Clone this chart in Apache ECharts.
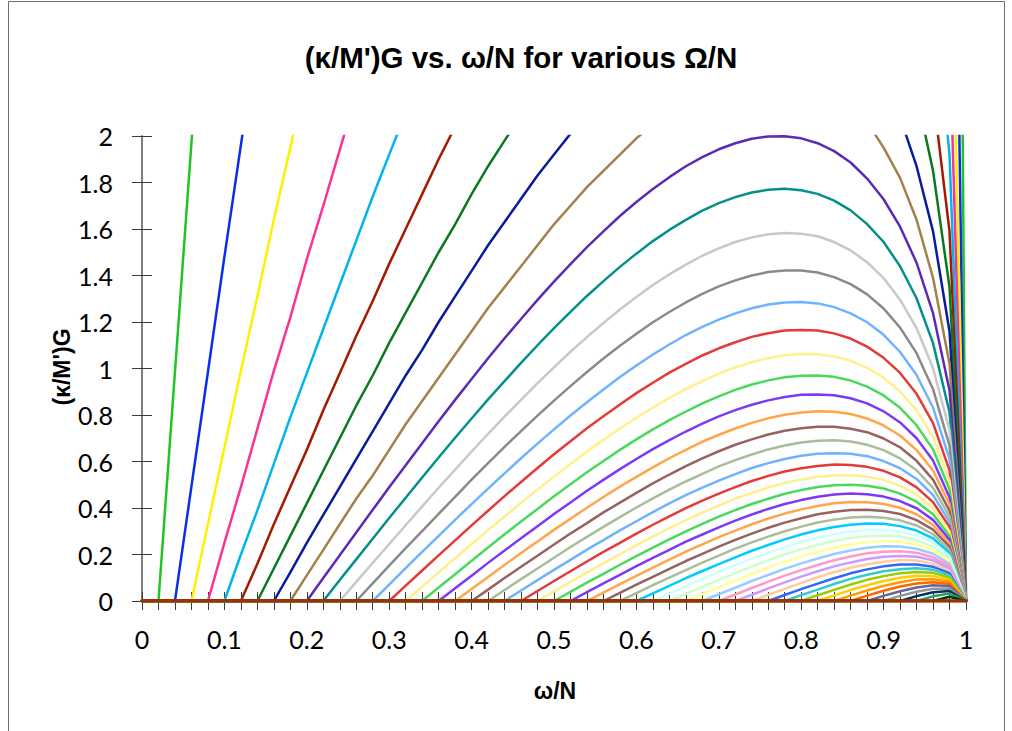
<!DOCTYPE html>
<html>
<head>
<meta charset="utf-8">
<script src="https://cdn.jsdelivr.net/npm/echarts@6/dist/echarts.min.js"></script>
<style>
html,body{margin:0;padding:0;background:#ffffff;}
#chart{width:1012px;height:731px;}
</style>
</head>
<body>
<div id="chart"></div>
<script>
// x values (ω/N), sampled every 0.02
const omegaOverN = [0,0.02,0.04,0.06,0.08,0.1,0.12,0.14,0.16,0.18,0.2,0.22,0.24,0.26,0.28,0.3,0.32,0.34,0.36,0.38,0.4,0.42,0.44,0.46,0.48,0.5,0.52,0.54,0.56,0.58,0.6,0.62,0.64,0.66,0.68,0.7,0.72,0.74,0.76,0.78,0.8,0.82,0.84,0.86,0.88,0.9,0.92,0.94,0.96,0.98,1];
// one curve per Ω/N value
const OmegaOverN = [0.02,0.04,0.06,0.08,0.1,0.12,0.14,0.16,0.18,0.2,0.22,0.24,0.26,0.28,0.3,0.32,0.34,0.36,0.38,0.4,0.42,0.44,0.46,0.48,0.5,0.52,0.54,0.56,0.58,0.6,0.62,0.64,0.66,0.68,0.7,0.72,0.74,0.76,0.78,0.8,0.82,0.84,0.86,0.88,0.9,0.92,0.94,0.96,0.98,1];
const xTickLabels = ['0','0.1','0.2','0.3','0.4','0.5','0.6','0.7','0.8','0.9','1'];

// (κ/M')G values of each curve, from ω/N = Ω/N up to ω/N = 1 (zero below Ω/N)
const G02 = [0,0.985,1.97,2.95,3.93,4.90,5.87,6.83,7.78,8.72,9.65,10.6,11.5,12.4,13.2,14.1,14.9,15.7,16.5,17.3,18.1,18.8,19.5,20.1,20.7,21.3,21.9,22.4,22.8,23.2,23.6,23.9,24.1,24.3,24.5,24.5,24.5,24.3,24.1,23.8,23.3,22.7,22.0,21.0,19.9,18.4,16.5,13.9,10.1,0];
const G04 = [0,0.493,0.985,1.48,1.96,2.45,2.93,3.41,3.88,4.36,4.82,5.28,5.73,6.18,6.61,7.03,7.44,7.85,8.24,8.62,8.99,9.34,9.68,9.99,10.30,10.58,10.85,11.08,11.30,11.48,11.65,11.79,11.90,11.96,12.00,12.00,11.95,11.85,11.69,11.48,11.19,10.82,10.37,9.79,9.07,8.16,6.87,4.98,0];
const G06 = [0,0.33,0.66,0.99,1.31,1.64,1.95,2.27,2.59,2.90,3.21,3.51,3.82,4.10,4.39,4.68,4.95,5.22,5.47,5.72,5.96,6.19,6.42,6.63,6.82,7.00,7.17,7.32,7.46,7.57,7.67,7.75,7.80,7.83,7.83,7.81,7.74,7.66,7.52,7.35,7.11,6.81,6.43,5.97,5.37,4.52,3.29,0];
const G08 = [0,0.25,0.49,0.74,0.99,1.22,1.47,1.70,1.94,2.18,2.41,2.63,2.86,3.08,3.29,3.50,3.70,3.90,4.09,4.28,4.45,4.62,4.78,4.94,5.08,5.21,5.32,5.43,5.52,5.60,5.67,5.72,5.74,5.75,5.74,5.70,5.63,5.54,5.41,5.24,5.03,4.76,4.41,3.97,3.35,2.43,0];
const G10 = [0,0.20,0.39,0.59,0.79,0.98,1.17,1.36,1.55,1.74,1.92,2.10,2.28,2.46,2.63,2.79,2.95,3.11,3.26,3.40,3.54,3.67,3.80,3.92,4.03,4.13,4.21,4.29,4.36,4.41,4.46,4.48,4.50,4.50,4.47,4.42,4.35,4.25,4.13,3.96,3.75,3.48,3.14,2.65,1.92,0];
const G12 = [0,0.16,0.33,0.49,0.65,0.82,0.98,1.14,1.29,1.45,1.60,1.75,1.90,2.04,2.18,2.32,2.45,2.58,2.71,2.83,2.94,3.05,3.15,3.24,3.32,3.41,3.48,3.53,3.58,3.62,3.65,3.67,3.66,3.65,3.62,3.57,3.48,3.38,3.25,3.08,2.86,2.57,2.18,1.59,0];
const G14 = [0,0.14,0.28,0.42,0.56,0.70,0.84,0.97,1.11,1.24,1.37,1.50,1.62,1.75,1.87,1.98,2.09,2.20,2.31,2.40,2.50,2.60,2.68,2.76,2.82,2.89,2.94,2.99,3.03,3.05,3.07,3.07,3.06,3.03,2.99,2.93,2.85,2.74,2.60,2.42,2.18,1.85,1.35,0];
const G16 = [0,0.123,0.25,0.37,0.49,0.61,0.73,0.85,0.97,1.08,1.20,1.31,1.42,1.53,1.63,1.73,1.83,1.92,2.01,2.10,2.18,2.25,2.32,2.39,2.44,2.50,2.54,2.57,2.60,2.62,2.62,2.62,2.60,2.57,2.52,2.45,2.36,2.23,2.08,1.87,1.59,1.16,0];
const G18 = [0,0.11,0.22,0.33,0.44,0.54,0.65,0.76,0.86,0.96,1.06,1.16,1.26,1.35,1.44,1.53,1.62,1.70,1.78,1.85,1.92,1.99,2.05,2.10,2.15,2.19,2.22,2.25,2.27,2.28,2.28,2.26,2.24,2.19,2.14,2.06,1.95,1.82,1.64,1.39,1.02,0];
const G20 = [0,0.099,0.197,0.295,0.392,0.489,0.584,0.679,0.773,0.865,0.955,1.044,1.130,1.213,1.295,1.374,1.449,1.522,1.590,1.656,1.716,1.772,1.823,1.870,1.909,1.943,1.969,1.988,1.998,1.999,1.990,1.969,1.935,1.886,1.817,1.728,1.610,1.455,1.238,0.906,0];
const G22 = [0,0.090,0.179,0.268,0.357,0.444,0.531,0.617,0.702,0.785,0.867,0.946,1.024,1.100,1.174,1.244,1.312,1.376,1.437,1.494,1.548,1.596,1.639,1.679,1.711,1.737,1.757,1.769,1.773,1.767,1.751,1.722,1.680,1.621,1.544,1.440,1.302,1.109,0.812,0];
const G24 = [0,0.082,0.164,0.245,0.326,0.407,0.487,0.565,0.643,0.719,0.793,0.865,0.937,1.005,1.072,1.135,1.196,1.254,1.308,1.359,1.405,1.447,1.485,1.517,1.544,1.564,1.577,1.583,1.580,1.569,1.544,1.508,1.457,1.389,1.296,1.174,1.001,0.735,0];
const G26 = [0,0.076,0.152,0.227,0.301,0.375,0.448,0.522,0.593,0.663,0.731,0.797,0.862,0.924,0.985,1.043,1.098,1.149,1.199,1.243,1.284,1.321,1.353,1.379,1.400,1.415,1.422,1.422,1.413,1.393,1.363,1.319,1.258,1.176,1.066,0.911,0.668,0];
const G28 = [0,0.070,0.141,0.211,0.280,0.349,0.417,0.483,0.549,0.614,0.677,0.738,0.798,0.855,0.910,0.963,1.013,1.060,1.103,1.144,1.179,1.210,1.237,1.259,1.275,1.284,1.286,1.280,1.264,1.237,1.199,1.145,1.071,0.972,0.832,0.611,0];
const G30 = [0,0.066,0.131,0.196,0.261,0.325,0.388,0.451,0.512,0.572,0.631,0.687,0.743,0.795,0.845,0.894,0.939,0.982,1.020,1.056,1.087,1.113,1.136,1.152,1.163,1.166,1.163,1.151,1.129,1.094,1.046,0.981,0.891,0.765,0.562,0];
const G32 = [0,0.062,0.123,0.184,0.244,0.305,0.364,0.422,0.479,0.535,0.589,0.643,0.693,0.742,0.788,0.832,0.873,0.912,0.946,0.978,1.005,1.027,1.044,1.057,1.062,1.061,1.052,1.033,1.004,0.960,0.901,0.820,0.705,0.519,0];
const G34 = [0,0.058,0.115,0.173,0.230,0.287,0.342,0.396,0.451,0.502,0.554,0.602,0.650,0.695,0.738,0.778,0.815,0.850,0.880,0.908,0.931,0.949,0.962,0.969,0.970,0.964,0.948,0.922,0.884,0.831,0.756,0.652,0.481,0];
const G36 = [0,0.055,0.109,0.164,0.217,0.270,0.322,0.374,0.424,0.474,0.521,0.567,0.611,0.653,0.692,0.729,0.763,0.794,0.821,0.844,0.863,0.877,0.887,0.888,0.885,0.872,0.850,0.816,0.768,0.700,0.604,0.446,0];
const G38 = [0,0.052,0.103,0.155,0.206,0.256,0.306,0.354,0.401,0.447,0.492,0.534,0.575,0.614,0.650,0.685,0.715,0.742,0.766,0.786,0.801,0.811,0.816,0.814,0.804,0.785,0.755,0.712,0.649,0.561,0.416,0];
const G40 = [0,0.049,0.099,0.147,0.195,0.243,0.290,0.335,0.381,0.423,0.465,0.506,0.544,0.580,0.613,0.644,0.672,0.695,0.716,0.732,0.743,0.749,0.749,0.741,0.726,0.699,0.661,0.603,0.522,0.388,0];
const G42 = [0,0.047,0.094,0.140,0.186,0.232,0.276,0.319,0.361,0.402,0.441,0.479,0.514,0.547,0.579,0.606,0.630,0.652,0.669,0.682,0.689,0.691,0.686,0.672,0.649,0.613,0.562,0.487,0.363,0];
const G44 = [0,0.045,0.090,0.134,0.177,0.221,0.262,0.304,0.343,0.382,0.420,0.455,0.488,0.518,0.546,0.572,0.593,0.611,0.625,0.633,0.636,0.633,0.623,0.602,0.571,0.525,0.455,0.340,0];
const G46 = [0,0.043,0.086,0.128,0.170,0.211,0.250,0.290,0.328,0.364,0.399,0.432,0.462,0.490,0.516,0.538,0.557,0.571,0.581,0.587,0.585,0.577,0.560,0.532,0.489,0.425,0.319,0];
const G48 = [0,0.041,0.082,0.122,0.163,0.201,0.240,0.277,0.313,0.348,0.380,0.410,0.440,0.465,0.488,0.508,0.522,0.534,0.540,0.541,0.535,0.521,0.496,0.457,0.398,0.299,0];
const G50 = [0,0.039,0.079,0.117,0.156,0.193,0.230,0.265,0.299,0.332,0.363,0.391,0.417,0.440,0.461,0.477,0.490,0.498,0.500,0.496,0.484,0.462,0.427,0.373,0.281,0];
const G52 = [0,0.038,0.076,0.112,0.150,0.185,0.220,0.255,0.286,0.317,0.346,0.372,0.396,0.417,0.434,0.448,0.458,0.462,0.459,0.449,0.430,0.399,0.349,0.264,0];
const G54 = [0,0.036,0.073,0.108,0.144,0.178,0.212,0.244,0.275,0.303,0.330,0.355,0.376,0.394,0.409,0.420,0.426,0.425,0.417,0.401,0.373,0.327,0.249,0];
const G56 = [0,0.035,0.070,0.104,0.138,0.172,0.203,0.234,0.263,0.290,0.315,0.337,0.356,0.373,0.384,0.391,0.392,0.387,0.374,0.348,0.307,0.234,0];
const G58 = [0,0.034,0.068,0.101,0.133,0.165,0.195,0.225,0.252,0.277,0.300,0.320,0.338,0.350,0.359,0.362,0.358,0.347,0.325,0.287,0.219,0];
const G60 = [0,0.033,0.065,0.098,0.129,0.159,0.188,0.216,0.241,0.265,0.286,0.304,0.318,0.328,0.333,0.332,0.322,0.303,0.269,0.207,0];
const G62 = [0,0.032,0.063,0.095,0.124,0.154,0.182,0.207,0.231,0.254,0.272,0.287,0.299,0.305,0.306,0.299,0.282,0.251,0.194,0];
const G64 = [0,0.031,0.061,0.091,0.120,0.148,0.175,0.200,0.222,0.242,0.258,0.271,0.279,0.281,0.277,0.262,0.234,0.183,0];
const G66 = [0,0.030,0.059,0.088,0.116,0.143,0.168,0.191,0.212,0.229,0.243,0.253,0.258,0.255,0.244,0.219,0.171,0];
const G68 = [0,0.029,0.057,0.086,0.112,0.138,0.162,0.183,0.202,0.217,0.229,0.235,0.234,0.225,0.203,0.160,0];
const G70 = [0,0.028,0.056,0.083,0.109,0.133,0.155,0.175,0.191,0.205,0.212,0.214,0.208,0.188,0.150,0];
const G72 = [0,0.027,0.054,0.080,0.105,0.128,0.149,0.166,0.181,0.190,0.194,0.190,0.175,0.139,0];
const G74 = [0,0.027,0.052,0.078,0.102,0.124,0.143,0.158,0.169,0.176,0.174,0.160,0.129,0];
const G76 = [0,0.026,0.051,0.075,0.098,0.119,0.136,0.149,0.157,0.157,0.147,0.120,0];
const G78 = [0,0.025,0.049,0.073,0.095,0.113,0.128,0.137,0.141,0.134,0.110,0];
const G80 = [0,0.025,0.048,0.071,0.091,0.107,0.119,0.125,0.121,0.101,0];
const G82 = [0,0.024,0.047,0.068,0.086,0.100,0.109,0.108,0.091,0];
const G84 = [0,0.023,0.045,0.065,0.081,0.093,0.094,0.083,0];
const G86 = [0,0.023,0.044,0.062,0.075,0.081,0.073,0];
const G88 = [0,0.022,0.042,0.058,0.068,0.064,0];
const G90 = [0,0.022,0.040,0.053,0.054,0];
const G92 = [0,0.021,0.038,0.043,0];
const G94 = [0,0.020,0.032,0];
const G96 = [0,0.018,0];
const G98 = [0,0];
const G100 = [0];

const curves = [G02,G04,G06,G08,G10,G12,G14,G16,G18,G20,G22,G24,G26,G28,G30,G32,G34,G36,G38,G40,
  G42,G44,G46,G48,G50,G52,G54,G56,G58,G60,G62,G64,G66,G68,G70,G72,G74,G76,G78,G80,
  G82,G84,G86,G88,G90,G92,G94,G96,G98,G100];

// line colours, in series order
const palette = ['#22c322','#0b2fe8','#fff000','#fa3296','#00b5ef','#a41a00','#0b7a1f','#0a1c9c','#a4814b','#5b2bb5',
  '#039089','#c8c8c8','#8a8a8a','#6fb3ff','#e53a3a','#fff08a','#4ad95a','#7b3af8','#ffa54a','#986262',
  '#a9bd9a','#6fb3ff','#e53a3a','#fff08a','#4ad95a','#7b3af8','#ffa54a','#986262','#a9bd9a','#00ccff',
  '#ccffff','#ccffcc','#ffff99','#99ccff','#ff99cc','#cc99ff','#ffcc99','#3366ff','#33cccc','#99cc00',
  '#ffcc00','#ff9900','#ff6600','#666699','#969696','#003366','#339966','#003300','#333300','#993300'];

curves.forEach((tail, i) => {
  if (tail.length !== omegaOverN.length - (i + 1)) throw new Error('bad length for curve ' + (i + 1) + ': ' + tail.length);
});

const series = curves.map((tail, i) => {
  const lead = omegaOverN.length - tail.length;
  const data = omegaOverN.map((x, j) => [x, j < lead ? 0 : tail[j - lead]]);
  const last = i === curves.length - 1;
  return {
    name: 'Ω/N = ' + OmegaOverN[i],
    type: 'line',
    xAxisIndex: 0,
    yAxisIndex: 0,
    data: data,
    showSymbol: false,
    symbol: 'none',
    clip: true,
    animation: false,
    lineStyle: { color: palette[i], width: last ? 3.6 : 2.5, cap: 'round', join: 'round' },
    itemStyle: { color: palette[i] },
    z: 2
  };
});

const labelFont = "Lato, 'Open Sans', sans-serif";
const boldFont = "'Liberation Sans', Arial, sans-serif";
const tickColor = '#3a3a3a';
const axisColor = '#7f7f7f';

const chart = echarts.init(document.getElementById('chart'), null, { renderer: 'svg', width: 1012, height: 731 });
chart.setOption({
  backgroundColor: '#ffffff',
  animation: false,
  grid: { left: 142, right: 46, top: 136, bottom: 130, containLabel: false },
  xAxis: [
    {
      type: 'value', position: 'bottom', min: 0, max: 1, interval: 0.02,
      axisLine: { show: true, lineStyle: { color: axisColor, width: 2 } },
      axisTick: { show: true, length: 9, lineStyle: { color: tickColor, width: 1 } },
      axisLabel: {
        margin: 25, fontFamily: labelFont, fontSize: 25, color: '#000',
        formatter: function (v) {
          const t = Math.round(v * 10);
          return Math.abs(v * 10 - t) < 1e-6 ? xTickLabels[t] : '';
        }
      },
      splitLine: { show: false }
    },
    {
      type: 'value', position: 'bottom', min: 0, max: 1, interval: 0.02,
      axisLine: { show: false },
      axisTick: { show: true, inside: true, length: 9, lineStyle: { color: tickColor, width: 1 } },
      axisLabel: { show: false },
      splitLine: { show: false }
    }
  ],
  yAxis: [
    {
      type: 'value', position: 'left', min: 0, max: 2, interval: 0.2,
      axisLine: { show: true, lineStyle: { color: axisColor, width: 2 } },
      axisTick: { show: true, length: 10, lineStyle: { color: tickColor, width: 1 } },
      axisLabel: { margin: 29, fontFamily: labelFont, fontSize: 25, color: '#000' },
      splitLine: { show: false }
    },
    {
      type: 'value', position: 'left', min: 0, max: 2, interval: 0.2,
      axisLine: { show: false },
      axisTick: { show: true, inside: true, length: 10, lineStyle: { color: tickColor, width: 1 } },
      axisLabel: { show: false },
      splitLine: { show: false }
    }
  ],
  series: series,
  graphic: [
    { type: 'rect', silent: true, z: -1, shape: { x: 8.5, y: 1.5, width: 996, height: 760 },
      style: { fill: 'none', stroke: '#6f6f6f', lineWidth: 1 } },
    { type: 'text', silent: true, x: 521, y: 57,
      style: { text: "(κ/M')G vs. ω/N for various Ω/N", fontFamily: boldFont, fontWeight: 'bold', fontSize: 29.5,
        fill: '#000', textAlign: 'center', textVerticalAlign: 'middle' } },
    { type: 'text', silent: true, x: 555, y: 691,
      style: { text: 'ω/N', fontFamily: boldFont, fontWeight: 'bold', fontSize: 23,
        fill: '#000', textAlign: 'center', textVerticalAlign: 'middle' } },
    { type: 'text', silent: true, x: 62, y: 367, rotation: Math.PI / 2,
      style: { text: "(κ/M')G", fontFamily: boldFont, fontWeight: 'bold', fontSize: 23,
        fill: '#000', textAlign: 'center', textVerticalAlign: 'middle' } }
  ]
});
</script>
</body>
</html>
